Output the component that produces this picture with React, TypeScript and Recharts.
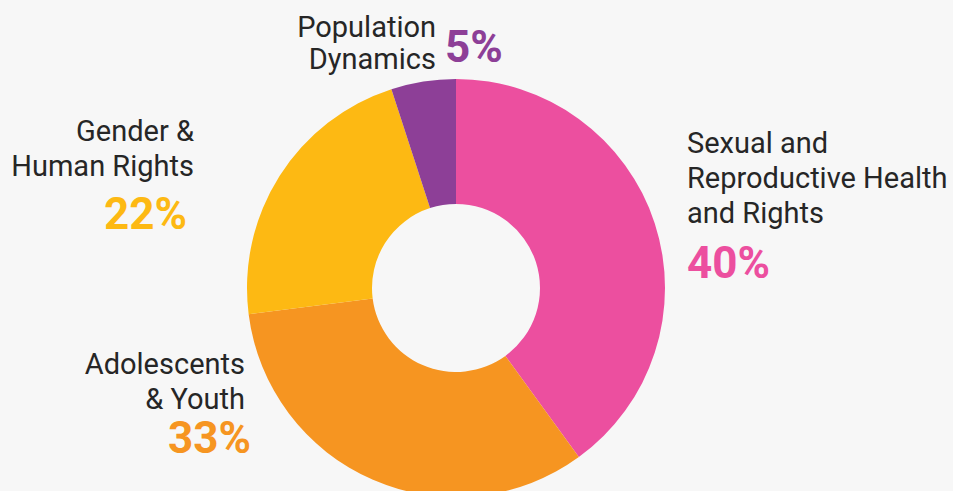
import { PieChart, Pie, Cell } from "recharts";

// slice data, clockwise from 12 o'clock
const categories = [
  "Sexual and Reproductive Health and Rights",
  "Adolescents & Youth",
  "Gender & Human Rights",
  "Population Dynamics",
];
const shares = [40, 33, 22, 5];
const nameLines = [
  ["Sexual and", "Reproductive Health", "and Rights"],
  ["Adolescents", "& Youth"],
  ["Gender &", "Human Rights"],
  ["Population", "Dynamics"],
];
const colors = ["#ec4f9f", "#f69521", "#fdb913", "#8d3f97"];

// where each callout text sits (annotation layout, not data)
const labelLayout = [
  { x: 687, y: 153, gap: 35, anchor: "start", px: 687, py: 278, pAnchor: "start" },
  { x: 245, y: 374, gap: 35, anchor: "end", px: 251, py: 453, pAnchor: "end" },
  { x: 194, y: 141, gap: 35, anchor: "end", px: 187, py: 229, pAnchor: "end" },
  { x: 436, y: 37, gap: 32, anchor: "end", px: 445, py: 62, pAnchor: "start" },
];

const data = categories.map((name, i) => ({ name, value: shares[i] }));

function renderLabel(props: any) {
  const i = categories.indexOf(props.name ?? props.payload?.name);
  if (i < 0) return null;
  const l = labelLayout[i];
  return (
    <g key={"lbl-" + i}>
      <text
        x={l.x}
        y={l.y}
        textAnchor={l.anchor as any}
        fill="#262626"
        fontSize={29}
        fontFamily="Roboto, sans-serif"
      >
        {nameLines[i].map((t, j) => (
          <tspan key={j} x={l.x} y={l.y + j * l.gap}>
            {t}
          </tspan>
        ))}
      </text>
      <text
        x={l.px}
        y={l.py}
        textAnchor={l.pAnchor as any}
        fill={colors[i]}
        fontSize={44}
        fontWeight={700}
        fontFamily="Roboto, sans-serif"
      >
        {shares[i] + "%"}
      </text>
    </g>
  );
}

export default function App() {
  return (
    <div
      style={{
        position: "absolute",
        left: 0,
        top: 0,
        width: 953,
        height: 491,
        background: "#f7f7f7",
      }}
    >
      <PieChart width={953} height={491} margin={{ top: 0, right: 0, bottom: 0, left: 0 }}>
        <Pie
          data={data}
          dataKey="value"
          nameKey="name"
          cx={456}
          cy={288}
          innerRadius={84}
          outerRadius={209}
          startAngle={90}
          endAngle={-270}
          stroke="none"
          label={renderLabel}
          labelLine={false}
          isAnimationActive={false}
        >
          {data.map((d, i) => (
            <Cell key={d.name} fill={colors[i]} />
          ))}
        </Pie>
      </PieChart>
    </div>
  );
}
